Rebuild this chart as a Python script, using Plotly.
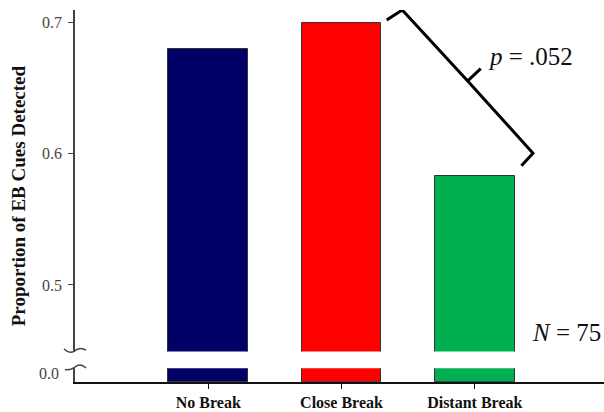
import plotly.graph_objects as go

# Data
categories = ["No Break", "Close Break", "Distant Break"]
proportions = [0.68, 0.70, 0.583]
bar_colors = ["#000066", "#FF0000", "#00B050"]
upper_ticks = [0.5, 0.6, 0.7]
upper_tick_labels = ["0.5", "0.6", "0.7"]
p_label = "<i>p</i> = .052"
n_label = "<i>N</i> = 75"

W, H = 604, 412
M_L, M_R, M_T, M_B = 75, 0, 10, 29.5
PLOT_W = W - M_L - M_R
PLOT_H = H - M_T - M_B

def px_x(px):
    return (px - M_L) / PLOT_W

def px_y(py):
    return (H - M_B - py) / PLOT_H

FONT = "Liberation Serif, Times New Roman, serif"
upper_bottom_px = 352
lower_top_px = 368.7

fig = go.Figure()
for xa, ya in (("x", "y"), ("x2", "y2")):
    fig.add_trace(go.Bar(
        x=categories, y=proportions, xaxis=xa, yaxis=ya,
        width=0.6,
        marker=dict(color=bar_colors, line=dict(color="#333333", width=1)),
        showlegend=False, hoverinfo="x+y",
    ))

xrange = [-1, 2.97]
fig.update_layout(
    width=W, height=H,
    margin=dict(l=M_L, r=M_R, t=M_T, b=M_B),
    paper_bgcolor="white", plot_bgcolor="white",
    font=dict(family=FONT, color="#222222"),
    bargap=0,
    xaxis=dict(domain=[0, 1], anchor="y", range=xrange, visible=False,
               type="category"),
    yaxis=dict(domain=[px_y(upper_bottom_px), 1], anchor="x",
               range=[0.4492, 0.7097], tickvals=upper_ticks,
               ticktext=upper_tick_labels, ticks="outside", ticklen=5,
               tickcolor="#444444", showline=True, linecolor="#444444",
               linewidth=1.5, showgrid=False, zeroline=False,
               ticklabelstandoff=3,
               tickfont=dict(family=FONT, size=16, color="#444444")),
    xaxis2=dict(domain=[0, 1], anchor="y2", range=xrange, type="category",
                showline=True, linecolor="#111111", linewidth=1.5,
                ticks="outside", ticklen=5, tickcolor="#111111",
                showgrid=False, zeroline=False,
                tickfont=dict(family=FONT, size=16, color="#111111"),
                tickvals=categories,
                ticktext=[f"<b>{c}</b>" for c in categories]),
    yaxis2=dict(domain=[0, px_y(lower_top_px)], anchor="x2",
                range=[0, 0.01], tickvals=[0], ticktext=["0.0"],
                ticks="", showline=True, linecolor="#444444", linewidth=1.5,
                showgrid=False, zeroline=False, ticklabelshift=-9,
                ticklabelstandoff=11,
                tickfont=dict(family=FONT, size=16, color="#444444")),
)

# Axis break marks on the y axis
shapes = [
    dict(type="path", xref="paper", yref="paper",
         path=(f"M {px_x(64)},{px_y(349.5)} Q {px_x(69.5)},{px_y(355)} {px_x(75)},{px_y(351)} "
               f"Q {px_x(80.5)},{px_y(347)} {px_x(86)},{px_y(350.5)}"),
         line=dict(color="#444444", width=1.5)),
    dict(type="path", xref="paper", yref="paper",
         path=(f"M {px_x(65)},{px_y(370)} Q {px_x(70)},{px_y(371)} {px_x(75)},{px_y(367.5)} "
               f"Q {px_x(80.5)},{px_y(363)} {px_x(86)},{px_y(368.5)}"),
         line=dict(color="#444444", width=1.5)),
]

# Bracket comparing Close Break and Distant Break
close_top, distant_top = proportions[1], proportions[2]
bracket = [(1.339, close_top + 0.002), (1.456, close_top + 0.0097),
           (1.947, close_top - 0.0444), (2.437, distant_top + 0.0175),
           (2.350, distant_top + 0.0079)]
notch = [(1.947, close_top - 0.0444), (2.045, close_top - 0.0350)]
path = "M " + " L ".join(f"{a},{b}" for a, b in bracket)
path += " M " + " L ".join(f"{a},{b}" for a, b in notch)
shapes.append(dict(type="path", xref="x", yref="y", path=path,
                   line=dict(color="black", width=3)))
fig.update_layout(shapes=shapes)

annotations = [
    dict(text="<b>Proportion of EB Cues Detected</b>", textangle=-90,
         xref="paper", yref="paper", x=px_x(18), y=px_y(196.5),
         xanchor="center", yanchor="middle", showarrow=False,
         font=dict(family=FONT, size=19, color="#111111")),
    dict(text=p_label, xref="paper", yref="paper", x=px_x(486),
         y=px_y(57), xanchor="left", yanchor="middle", showarrow=False,
         font=dict(family=FONT, size=25, color="#111111")),
    dict(text=n_label, xref="paper", yref="paper", x=px_x(530),
         y=px_y(333), xanchor="left", yanchor="middle", showarrow=False,
         font=dict(family=FONT, size=25, color="#111111")),
]
fig.update_layout(annotations=annotations)

fig.write_html("out.html")
